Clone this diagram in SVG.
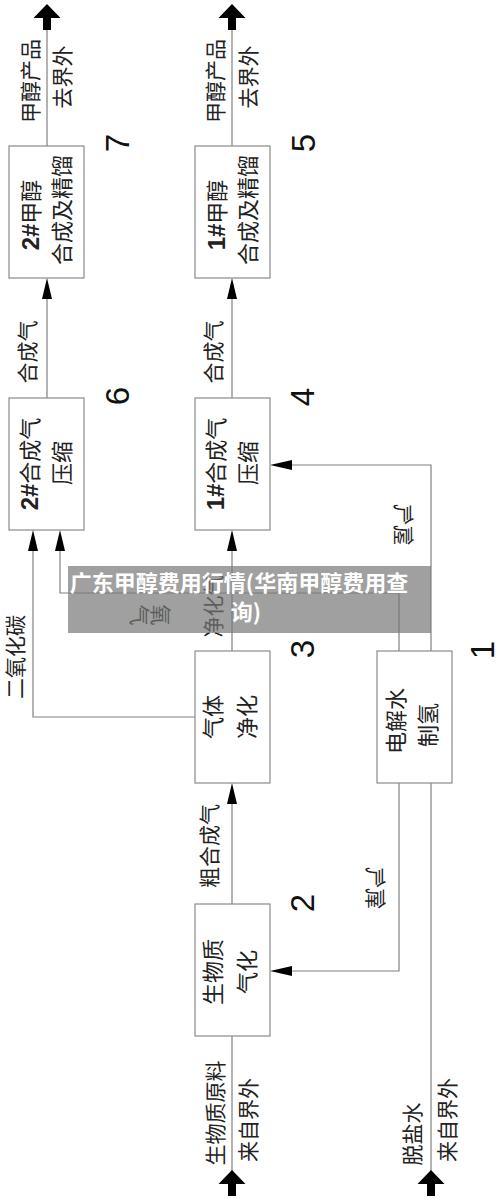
<svg xmlns="http://www.w3.org/2000/svg" width="500" height="1200" viewBox="0 0 500 1200">
<style>
.box{fill:#fff;stroke:#8a8a8a;stroke-width:1.2}
.ln{fill:none;stroke:#808080;stroke-width:1.2}
.ah{fill:#000}
.lbl{font-family:"Noto Sans CJK SC","Liberation Sans",sans-serif;font-size:21px;fill:#222;text-anchor:middle}
.bt{font-family:"Noto Sans CJK SC","Liberation Sans",sans-serif;font-size:22px;fill:#222;text-anchor:middle}
.bn{font-family:"Liberation Sans","Noto Sans CJK SC",sans-serif;font-weight:bold}
.num{font-family:"Liberation Sans",Arial,sans-serif;font-size:33px;fill:#111;text-anchor:middle}
.ov{font-family:"Noto Sans CJK SC",sans-serif;font-size:22px;font-weight:bold;fill:#fff;text-anchor:middle}
</style>
<defs>
<polygon id="blk" points="0,-13 13.5,1 4,1 4,13 -4,13 -4,1 -13.5,1" class="ah"/>
</defs>
<rect width="500" height="1200" fill="#fff"/>

<g id="connectors">
  <line class="ln" x1="47" y1="146" x2="47" y2="30"/>
  <use href="#blk" x="47" y="17"/>
  <line class="ln" x1="232" y1="146" x2="232" y2="30"/>
  <use href="#blk" x="232" y="17"/>
  <line class="ln" x1="47" y1="398" x2="47" y2="290"/>
  <polygon class="ah" points="47,278 42,299 52,299"/>
  <line class="ln" x1="232" y1="398" x2="232" y2="290"/>
  <polygon class="ah" points="232,278 227,299 237,299"/>
  <line class="ln" x1="232" y1="651" x2="232" y2="542"/>
  <polygon class="ah" points="232,530 227,551 237,551"/>
  <polyline class="ln" points="195,717 33,717 33,542"/>
  <polygon class="ah" points="33,530 28,551 38,551"/>
  <polyline class="ln" points="399,651 399,593 60,593 60,542"/>
  <polygon class="ah" points="60,530 55,551 65,551"/>
  <polyline class="ln" points="431,651 431,465 282,465"/>
  <polygon class="ah" points="270,465 292,460 292,470"/>
  <line class="ln" x1="232" y1="904" x2="232" y2="795"/>
  <polygon class="ah" points="232,783 227,804 237,804"/>
  <polyline class="ln" points="399,783 399,971 282,971"/>
  <polygon class="ah" points="270,971 292,966 292,976"/>
  <line class="ln" x1="232" y1="1036" x2="232" y2="1172"/>
  <use href="#blk" x="232" y="1183"/>
  <line class="ln" x1="431" y1="783" x2="431" y2="1172"/>
  <use href="#blk" x="431" y="1183"/>
</g>

<g id="labels">
  <text class="lbl" transform="translate(38,81) rotate(-90)">甲醇产品</text>
  <text class="lbl" transform="translate(70,77) rotate(-90)">去界外</text>
  <text class="lbl" transform="translate(223,81) rotate(-90)">甲醇产品</text>
  <text class="lbl" transform="translate(256,77) rotate(-90)">去界外</text>
  <text class="lbl" transform="translate(35,352) rotate(-90)">合成气</text>
  <text class="lbl" transform="translate(221,352) rotate(-90)">合成气</text>
  <text class="lbl" transform="translate(221,606) rotate(-90)">净化气</text>
  <text class="lbl" transform="translate(217,846) rotate(-90)">粗合成气</text>
  <text class="lbl" transform="translate(23,657) rotate(-90)">二氧化碳</text>
  <text class="lbl" transform="matrix(0,-1,-1,0,396,525)">氢气</text>
  <text class="lbl" transform="matrix(0,-1,-1,0,368,888)">氧气</text>
  <text class="lbl" transform="translate(150,615) rotate(90)" style="writing-mode:vertical-rl">氧气</text>
  <text class="lbl" transform="translate(223,1113) rotate(-90)">生物质原料</text>
  <text class="lbl" transform="translate(256,1120) rotate(-90)">来自界外</text>
  <text class="lbl" transform="translate(420,1134) rotate(-90)">脱盐水</text>
  <text class="lbl" transform="translate(455,1120) rotate(-90)">来自界外</text>
</g>

<g id="node7">
  <rect class="box" x="9" y="146" width="75" height="132"/>
  <text class="bt" transform="translate(39,215) rotate(-90)"><tspan class="bn" font-size="24">2#</tspan>甲醇</text>
  <text class="bt" transform="translate(70,210) rotate(-90)">合成及精馏</text>
  <text class="num" transform="translate(129,143) rotate(-90)">7</text>
</g>
<g id="node5">
  <rect class="box" x="195" y="146" width="75" height="132"/>
  <text class="bt" transform="translate(225,215) rotate(-90)"><tspan class="bn" font-size="24">1#</tspan>甲醇</text>
  <text class="bt" transform="translate(256,210) rotate(-90)">合成及精馏</text>
  <text class="num" transform="translate(315,143) rotate(-90)">5</text>
</g>
<g id="node6">
  <rect class="box" x="9" y="398" width="75" height="132"/>
  <text class="bt" transform="translate(38,464) rotate(-90)"><tspan class="bn" font-size="24">2#</tspan>合成气</text>
  <text class="bt" transform="translate(70,463) rotate(-90)">压缩</text>
  <text class="num" transform="translate(129,396) rotate(-90)">6</text>
</g>
<g id="node4">
  <rect class="box" x="195" y="398" width="75" height="132"/>
  <text class="bt" transform="translate(224,464) rotate(-90)"><tspan class="bn" font-size="24">1#</tspan>合成气</text>
  <text class="bt" transform="translate(256,463) rotate(-90)">压缩</text>
  <text class="num" transform="translate(314,397) rotate(-90)">4</text>
</g>
<g id="node3">
  <rect class="box" x="195" y="651" width="75" height="132"/>
  <text class="bt" transform="translate(221,717) rotate(-90)">气体</text>
  <text class="bt" transform="translate(255,717) rotate(-90)">净化</text>
  <text class="num" transform="translate(314,649) rotate(-90)">3</text>
</g>
<g id="node1">
  <rect class="box" x="377" y="651" width="75" height="132"/>
  <text class="bt" transform="translate(404,721) rotate(-90)">电解水</text>
  <text class="bt" transform="translate(436,725) rotate(-90)">制氢</text>
  <text class="num" transform="translate(494,650) rotate(-90)">1</text>
</g>
<g id="node2">
  <rect class="box" x="195" y="904" width="75" height="132"/>
  <text class="bt" transform="translate(221,972) rotate(-90)">生物质</text>
  <text class="bt" transform="translate(255,972) rotate(-90)">气化</text>
  <text class="num" transform="translate(314,903) rotate(-90)">2</text>
</g>

<g id="banner">
  <rect x="68" y="566" width="363" height="67" fill="#787878" fill-opacity="0.7"/>
  <text class="ov" x="239" y="591">广东甲醇费用行情(华南甲醇费用查</text>
  <text class="ov" x="246" y="620">询)</text>
</g>
</svg>
